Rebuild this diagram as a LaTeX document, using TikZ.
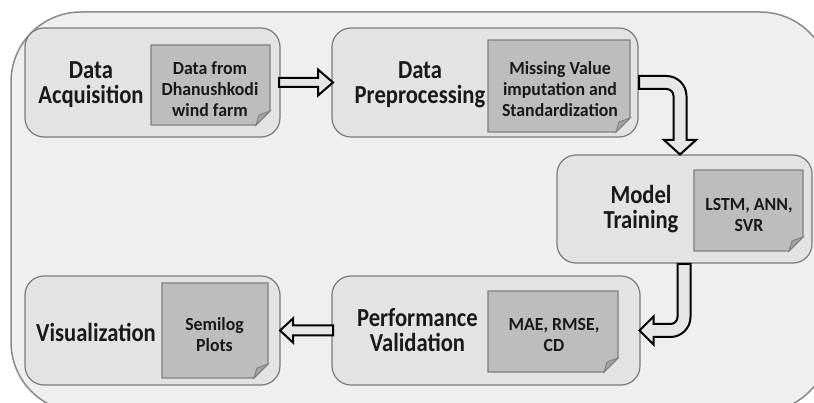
\documentclass[tikz,border=0pt]{standalone}
\usepackage{fontspec}
\usetikzlibrary{calc}
\newfontfamily\tfont[FakeStretch=0.87]{Carlito}
\newfontfamily\nfont[FakeStretch=0.96]{Carlito}
\definecolor{contfill}{HTML}{EFEFEF}
\definecolor{contline}{HTML}{8A8A8A}
\definecolor{boxfill}{HTML}{E3E3E3}
\definecolor{boxline}{HTML}{7A7A7A}
\definecolor{notefill}{HTML}{BDBDBD}
\definecolor{noteline}{HTML}{7F7F7F}
\definecolor{foldfill}{HTML}{A3A3A3}
\definecolor{arrowfill}{HTML}{E6E6E6}
\tikzset{
  stagebox/.style={draw=boxline, fill=boxfill, line width=1.2pt, rounded corners=19pt, inner sep=0pt, outer sep=0pt},
  notearea/.style={draw=none, inner sep=0pt, outer sep=0pt},
  notecard/.style={draw=noteline, fill=notefill, line width=1.1pt, line join=miter},
  notefold/.style={draw=noteline, fill=foldfill, line width=0.9pt},
  titletext/.style={font=\tfont\bfseries\fontsize{26}{25}\selectfont, align=center, inner sep=0pt, text=black!90},
  notetext/.style={font=\nfont\bfseries\fontsize{18.5}{21}\selectfont, align=center, inner sep=0pt, text=black!90},
  blockarrow/.style={draw=black, fill=arrowfill, line width=2pt, line join=miter},
}
\newcommand\drawnote[1]{%
  \draw[notecard] (#1.north west) -- (#1.north east) -- ([yshift=14pt]#1.south east) -- ([xshift=-14pt]#1.south east) -- (#1.south west) -- cycle;
  \draw[notefold] ([yshift=14pt]#1.south east) -- ([xshift=-11pt,yshift=10pt]#1.south east) -- ([xshift=-14pt]#1.south east) -- cycle;
}
\begin{document}
\begin{tikzpicture}[x=1pt,y=-1pt]
\useasboundingbox (0,0) rectangle (814,403);
\fill[white] (0,0) rectangle (814,403);
\draw[draw=contline, fill=contfill, line width=1.5pt, rounded corners=70pt] (11,12) rectangle (830,412);

% stage boxes
\node[stagebox, minimum width=255pt, minimum height=109pt] (b1) at (152.5,82.5) {};
\node[stagebox, minimum width=306pt, minimum height=109pt] (b2) at (485,82.5) {};
\node[stagebox, minimum width=255pt, minimum height=108pt] (b3) at (684.5,209) {};
\node[stagebox, minimum width=308pt, minimum height=109pt] (b4) at (486,330.5) {};
\node[stagebox, minimum width=255pt, minimum height=109pt] (b5) at (152.5,330.5) {};

% notes
\node[notearea, minimum width=119pt, minimum height=80pt] (n1) at (210.5,85) {};
\node[notearea, minimum width=142pt, minimum height=92pt] (n2) at (559,86) {};
\node[notearea, minimum width=109pt, minimum height=81pt] (n3) at (748.5,210.5) {};
\node[notearea, minimum width=130pt, minimum height=81pt] (n4) at (553,331.5) {};
\node[notearea, minimum width=106pt, minimum height=95pt] (n5) at (215,330.5) {};
\drawnote{n1}
\drawnote{n2}
\drawnote{n3}
\drawnote{n4}
\drawnote{n5}

% titles
\node[titletext] (t1) at (91,85) {Data\\Acquisition};
\node[titletext] (t2) at (420,85) {Data\\Preprocessing};
\node[titletext] (t3) at (641,209) {Model\\Training};
\node[titletext] (t4) at (417.5,330) {Performance\\Validation};
\node[titletext] (t5) at (96,332) {Visualization};

% note texts
\node[notetext] (x1) at (210,89) {Data from\\Dhanushkodi\\wind farm};
\node[notetext] (x2) at (560,89) {Missing Value\\imputation and\\Standardization};
\node[notetext] (x3) at (749,215) {LSTM, ANN,\\SVR};
\node[notetext] (x4) at (554,335) {MAE, RMSE,\\CD};
\node[notetext] (x5) at (214.5,335) {Semilog\\Plots};

% arrow 1: acquisition -> preprocessing
\draw[blockarrow] let \p1=(b1.east), \p2=(b2.west) in
  (\x1-1pt,\y1+4.5pt) -- (\x2-14pt,\y1+4.5pt) -- (\x2-14pt,\y1+13pt) -- (\x2+1pt,\y1)
  -- (\x2-14pt,\y1-13pt) -- (\x2-14pt,\y1-4.5pt) -- (\x1-1pt,\y1-4.5pt) -- cycle;

% arrow 2: preprocessing -> model training (bent)
\draw[blockarrow] let \p1=(b2.east), \p2=([xshift=-4.5pt]b3.north) in
  (\x1+1pt,\y1+6.5pt) -- (\x2+6.5pt-20pt,\y1+6.5pt)
  .. controls (\x2+6.5pt-9pt,\y1+6.5pt) and (\x2+6.5pt,\y1+6.5pt-9pt) .. (\x2+6.5pt,\y1+6.5pt-20pt)
  -- (\x2+6.5pt,\y2+15pt) -- (\x2+16pt,\y2+15pt) -- (\x2,\y2+0.5pt) -- (\x2-16pt,\y2+15pt) -- (\x2-6.5pt,\y2+15pt)
  -- (\x2-6.5pt,\y1-6.5pt-7pt)
  .. controls (\x2-6.5pt,\y1-6.5pt-3.1pt) and (\x2-6.5pt-3.1pt,\y1-6.5pt) .. (\x2-6.5pt-7pt,\y1-6.5pt)
  -- (\x1+1pt,\y1-6.5pt) -- cycle;

% arrow 3: model training -> performance validation (bent)
\draw[blockarrow] let \p1=([xshift=-0.5pt]b3.south), \p2=(b4.east) in
  (\x1-6.5pt,\y1-1pt) -- (\x1-6.5pt,\y2+6.5pt+7pt)
  .. controls (\x1-6.5pt,\y2+6.5pt+3.1pt) and (\x1-6.5pt-3.1pt,\y2+6.5pt) .. (\x1-6.5pt-7pt,\y2+6.5pt)
  -- (\x2+13.5pt,\y2+6.5pt) -- (\x2+13.5pt,\y2+14pt) -- (\x2-0.5pt,\y2) -- (\x2+13.5pt,\y2-14pt) -- (\x2+13.5pt,\y2-6.5pt)
  -- (\x1+6.5pt-20pt,\y2-6.5pt)
  .. controls (\x1+6.5pt-9pt,\y2-6.5pt) and (\x1+6.5pt,\y2-6.5pt+9pt) .. (\x1+6.5pt,\y2-6.5pt+20pt)
  -- (\x1+6.5pt,\y1-1pt) -- cycle;

% arrow 4: performance validation -> visualization
\draw[blockarrow] let \p1=(b4.west), \p2=(b5.east) in
  (\x1+1pt,\y1+5pt) -- (\x2+13pt,\y1+5pt) -- (\x2+13pt,\y1+12pt) -- (\x2,\y1)
  -- (\x2+13pt,\y1-12pt) -- (\x2+13pt,\y1-5pt) -- (\x1+1pt,\y1-5pt) -- cycle;
\end{tikzpicture}
\end{document}
